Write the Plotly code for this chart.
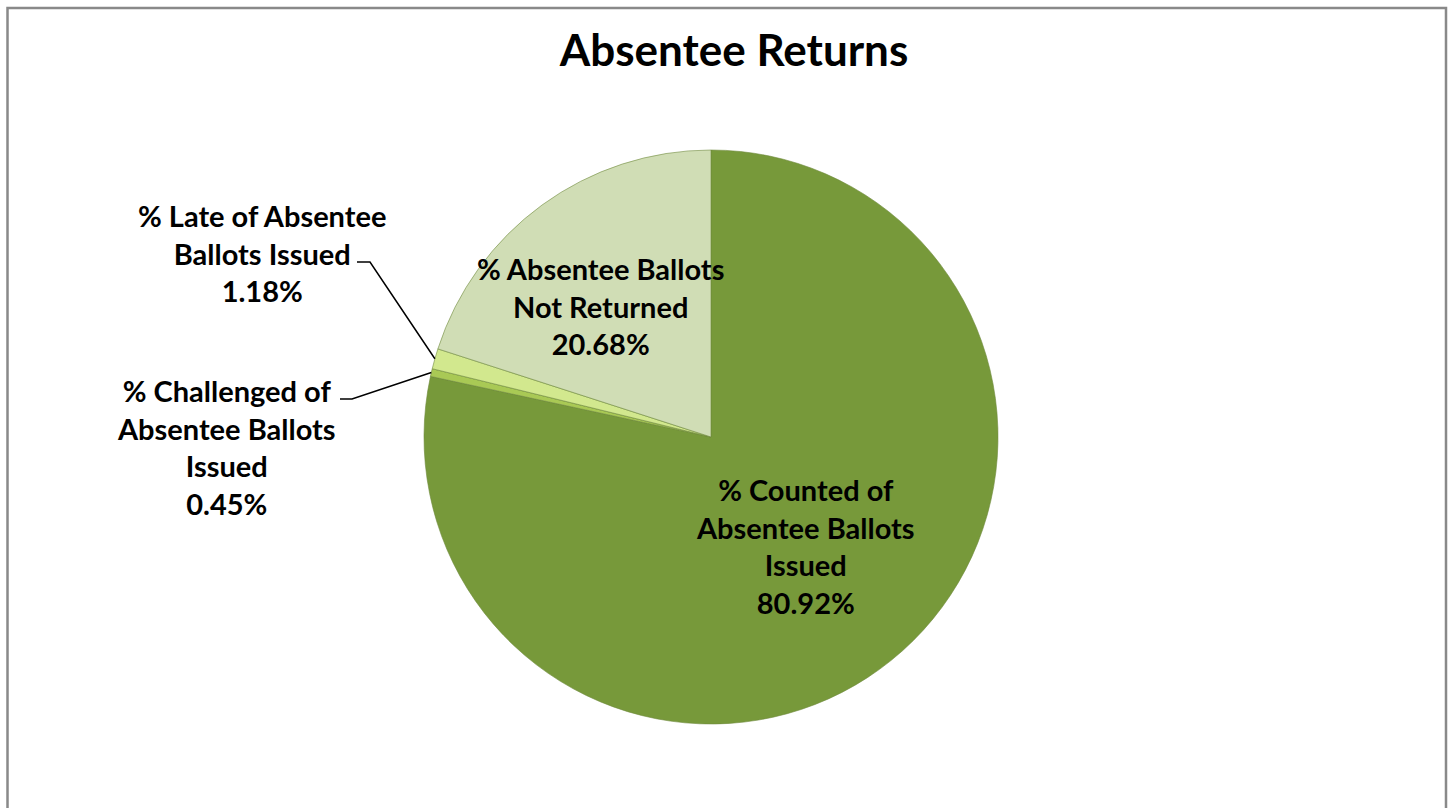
import math
import plotly.graph_objects as go

# ---- data ----
categories = [
    "% Counted of Absentee Ballots Issued",
    "% Challenged of Absentee Ballots Issued",
    "% Late of Absentee Ballots Issued",
    "% Absentee Ballots Not Returned",
]
label_lines = [
    "% Counted of<br>Absentee Ballots<br>Issued",
    "% Challenged of<br>Absentee Ballots<br>Issued",
    "% Late of Absentee<br>Ballots Issued",
    "% Absentee Ballots<br>Not Returned",
]
values = [80.92, 0.45, 1.18, 20.68]
colors = ["#77993a", "#a9c955", "#d2e88e", "#d0ddb5"]

# ---- layout geometry (pixels) ----
W, H = 1452, 808
cx, cy, r = 711, 437, 287
FONT = "Lato"

fig = go.Figure(go.Pie(
    labels=categories,
    values=values,
    sort=False,
    direction="clockwise",
    rotation=0,
    textinfo="none",
    hoverinfo="label+value",
    marker=dict(colors=colors, line=dict(color="#6e8a3c", width=0.6)),
    domain=dict(x=[(cx - r) / W, (cx + r) / W], y=[(H - cy - r) / H, (H - cy + r) / H]),
    showlegend=False,
))

def px(x, y):
    return x / W, 1 - y / H

# label positions (pixel centres)
label_pos = [(805, 546), (226, 447), (262, 253), (600, 306)]
annotations = []
for txt, v, (lx, ly) in zip(label_lines, values, label_pos):
    ax_, ay_ = px(lx, ly)
    annotations.append(dict(
        x=ax_, y=ay_, xref="paper", yref="paper", xanchor="center", yanchor="middle",
        text=f"<b>{txt}<br>{v:.2f}%</b>", showarrow=False, align="center",
        font=dict(family=FONT, size=29, color="#000000"),
    ))

# leader lines from label to the slice edge (computed from data)
total = sum(values)
cum = 0
mids = []
for v in values:
    mids.append((cum + v / 2) / total * 2 * math.pi)
    cum += v
elbows = {1: [(340, 399), (352, 399)], 2: [(357, 262), (370, 262)]}
shapes = []
for i, pts in elbows.items():
    th = mids[i]
    ex, ey = cx + r * math.sin(th), cy - r * math.cos(th)
    allp = pts + [(ex, ey)]
    path = "M " + " L ".join(f"{px(a, b)[0]},{px(a, b)[1]}" for a, b in allp)
    shapes.append(dict(type="path", path=path, xref="paper", yref="paper",
                       line=dict(color="#000000", width=1.5)))

# chart border
shapes.append(dict(type="rect", xref="paper", yref="paper",
                   x0=7.5 / W, x1=1446 / W, y0=-0.02, y1=1 - 8 / H,
                   line=dict(color="#898989", width=2.5)))

fig.update_layout(
    width=W, height=H,
    margin=dict(l=0, r=0, t=0, b=0),
    paper_bgcolor="#ffffff",
    plot_bgcolor="#ffffff",
    title=dict(text="<b>Absentee Returns</b>", x=734 / W, xanchor="center",
               y=1 - 51 / H, yanchor="middle",
               font=dict(family=FONT, size=44, color="#000000")),
    annotations=annotations,
    shapes=shapes,
)

fig.write_html("out.html", config={"displayModeBar": False},
               post_script="document.body.style.margin='0';")
